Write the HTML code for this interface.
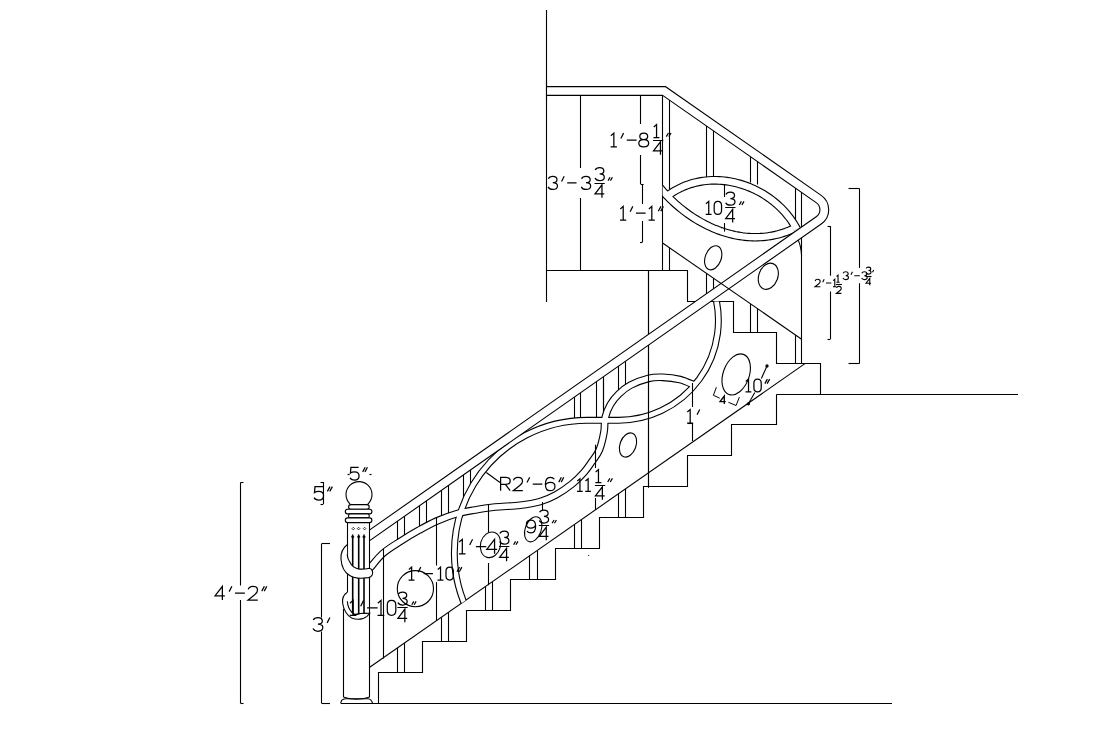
<!DOCTYPE html>
<html><head><meta charset="utf-8"><style>
html,body{margin:0;padding:0;background:#fff;width:1120px;height:751px;overflow:hidden}
svg{display:block}
text{font-family:"Liberation Sans",sans-serif;fill:#000;stroke:none}
</style></head><body>
<svg width="1120" height="751" viewBox="0 0 1120 751">
<defs><clipPath id="cU"><rect x="662.6" y="0" width="400" height="751"/></clipPath>
<clipPath id="cpost"><rect x="369.7" y="0" width="800" height="751"/></clipPath>
<clipPath id="cB"><polygon points="369.7,301.4 894.1,301.4 369.7,667.3"/></clipPath></defs>
<rect width="1120" height="751" fill="#fff"/>
<g fill="none" stroke="#000" stroke-width="1.1" stroke-linecap="butt" stroke-linejoin="miter">
<line x1="546.50" y1="10.00" x2="546.50" y2="302.00"/>
<line x1="340.70" y1="703.50" x2="892.00" y2="703.50"/>
<line x1="776.40" y1="394.50" x2="1018.00" y2="394.50"/>
<path d="M546.50,270.50 L687.50,270.50 L687.50,301.50 L733.50,301.50 L733.50,332.50 L776.50,332.50 L776.50,363.50 L820.50,363.50 L820.50,394.50"/>
<line x1="580.50" y1="91.00" x2="580.50" y2="168.00"/>
<line x1="580.50" y1="198.00" x2="580.50" y2="270.30"/>
<line x1="662.50" y1="91.00" x2="662.50" y2="270.30"/>
<line x1="669.50" y1="95.00" x2="669.50" y2="189.00"/>
<line x1="669.50" y1="247.71" x2="669.50" y2="270.30"/>
<line x1="648.50" y1="270.30" x2="648.50" y2="487.60"/>
<line x1="801.50" y1="191.00" x2="801.50" y2="363.40"/>
<line x1="795.50" y1="335.04" x2="795.50" y2="363.40"/>
<line x1="795.50" y1="185.00" x2="795.50" y2="219.40"/>
<line x1="706.50" y1="123.02" x2="706.50" y2="177.50"/>
<line x1="713.50" y1="127.88" x2="713.50" y2="177.20"/>
<line x1="750.50" y1="153.55" x2="750.50" y2="182.50"/>
<line x1="757.50" y1="158.40" x2="757.50" y2="184.50"/>
<line x1="706.50" y1="273.45" x2="706.50" y2="299.02"/>
<line x1="713.50" y1="278.29" x2="713.50" y2="294.11"/>
<line x1="750.50" y1="303.90" x2="750.50" y2="332.40"/>
<line x1="757.50" y1="308.74" x2="757.50" y2="332.40"/>
<path d="M378.50,703.50 L378.50,672.50 L422.50,672.50 L422.50,641.50 L466.50,641.50 L466.50,610.50 L510.50,610.50 L510.50,579.50 L555.50,579.50 L555.50,548.50 L599.50,548.50 L599.50,517.50 L643.50,517.50 L643.50,486.50 L687.50,486.50 L687.50,455.50 L731.50,455.50 L731.50,424.50 L776.50,424.50 L776.50,394.50"/>
<line x1="369.70" y1="667.30" x2="805.30" y2="363.40"/>
<line x1="397.50" y1="648.01" x2="397.50" y2="672.28"/>
<line x1="404.50" y1="643.05" x2="404.50" y2="672.28"/>
<line x1="441.50" y1="617.17" x2="441.50" y2="641.36"/>
<line x1="448.50" y1="612.22" x2="448.50" y2="641.36"/>
<line x1="485.50" y1="586.33" x2="485.50" y2="610.44"/>
<line x1="492.50" y1="581.38" x2="492.50" y2="610.44"/>
<line x1="529.50" y1="555.49" x2="529.50" y2="579.52"/>
<line x1="537.50" y1="550.54" x2="537.50" y2="579.52"/>
<line x1="574.50" y1="524.66" x2="574.50" y2="548.60"/>
<line x1="581.50" y1="519.70" x2="581.50" y2="548.60"/>
<line x1="618.50" y1="493.82" x2="618.50" y2="517.68"/>
<line x1="625.50" y1="488.86" x2="625.50" y2="517.68"/>
<line x1="397.50" y1="515.86" x2="397.50" y2="541.00"/>
<line x1="404.50" y1="511.03" x2="404.50" y2="537.00"/>
<line x1="419.50" y1="500.30" x2="419.50" y2="530.00"/>
<line x1="426.50" y1="495.46" x2="426.50" y2="527.50"/>
<line x1="441.50" y1="484.94" x2="441.50" y2="522.50"/>
<line x1="448.50" y1="479.96" x2="448.50" y2="520.00"/>
<line x1="463.50" y1="469.44" x2="463.50" y2="498.00"/>
<line x1="470.50" y1="464.74" x2="470.50" y2="486.00"/>
<line x1="574.50" y1="391.59" x2="574.50" y2="420.00"/>
<line x1="580.50" y1="387.39" x2="580.50" y2="420.00"/>
<line x1="596.50" y1="376.24" x2="596.50" y2="420.00"/>
<line x1="603.50" y1="371.47" x2="603.50" y2="412.00"/>
<line x1="618.50" y1="360.74" x2="618.50" y2="392.00"/>
<line x1="625.50" y1="355.97" x2="625.50" y2="388.00"/>
<path d="M469.7,615 A132.7,132.7 0 0,1 587,420.3 L618.5,420.3 A99.8,99.8 0 0,0 713.6,290" stroke-width="6.90" clip-path="url(#cB)"/>
<path d="M362.00,577.00 C363.33,575.50 366.50,571.95 370.00,568.00 C373.50,564.05 377.83,557.80 383.00,553.30 C388.17,548.80 395.00,544.85 401.00,541.00 C407.00,537.15 413.00,533.55 419.00,530.20 C425.00,526.85 430.67,523.67 437.00,520.90 C443.33,518.13 450.67,515.42 457.00,513.60 C463.33,511.78 468.67,511.10 475.00,510.00 C481.33,508.90 487.50,507.78 495.00,507.00 C502.50,506.22 512.50,506.20 520.00,505.30 C527.50,504.40 534.00,503.35 540.00,501.60 C546.00,499.85 550.67,497.73 556.00,494.80 C561.33,491.87 567.33,487.73 572.00,484.00 C576.67,480.27 580.67,476.15 584.00,472.40 C587.33,468.65 589.45,465.23 592.00,461.50 C594.55,457.77 597.30,454.92 599.30,450.00 C601.30,445.08 603.02,437.40 604.00,432.00 C604.98,426.60 604.12,422.20 605.20,417.60 C606.28,413.00 608.23,408.33 610.50,404.40 C612.77,400.47 615.48,397.20 618.80,394.00 C622.12,390.80 625.47,387.80 630.40,385.20 C635.33,382.60 643.03,379.72 648.40,378.40 C653.77,377.08 657.33,377.10 662.60,377.30 C667.87,377.50 674.77,378.32 680.00,379.60 C685.23,380.88 691.67,384.10 694.00,385.00" stroke-width="7.70" clip-path="url(#cpost)"/>
<path d="M667.71,195.58 L669.92,193.99 L672.17,192.49 L674.45,191.08 L676.76,189.76 L679.10,188.54 L681.47,187.40 L683.87,186.35 L686.28,185.39 L688.73,184.51 L691.19,183.72 L693.67,183.01 L696.16,182.39 L698.67,181.85 L701.20,181.39 L703.73,181.02 L706.28,180.72 L708.83,180.51 L711.38,180.37 L713.94,180.31 L716.51,180.32 L719.07,180.42 L721.63,180.58 L724.18,180.82 L726.73,181.14 L729.28,181.53 L731.81,181.98 L734.33,182.51 L736.84,183.11 L739.33,183.78 L741.81,184.52 L744.27,185.32 L746.71,186.19 L749.12,187.12 L751.51,188.12 L753.88,189.19 L756.22,190.31 L758.52,191.50 L760.80,192.75 L763.04,194.06 L765.25,195.42 L767.41,196.85 L769.54,198.34 L771.63,199.88 L773.68,201.47 L775.68,203.12 L777.63,204.83 L779.54,206.59 L781.40,208.40 L783.20,210.26 L784.95,212.17 L786.64,214.14 L788.28,216.15 L789.86,218.21 L791.37,220.31 L792.82,222.47 L794.21,224.66 L795.53,226.91 L796.78,229.19" stroke-width="8.70"/>
<path d="M655.20,181.63 L656.70,183.65 L658.25,185.65 L659.83,187.62 L661.46,189.58 L663.13,191.51 L664.84,193.41 L666.59,195.29 L668.37,197.15 L670.19,198.98 L672.05,200.77 L673.94,202.54 L675.86,204.28 L677.82,205.99 L679.81,207.66 L681.83,209.30 L683.89,210.90 L685.97,212.47 L688.08,214.00 L690.22,215.49 L692.38,216.94 L694.57,218.35 L696.79,219.72 L699.03,221.05 L701.29,222.33 L703.57,223.57 L705.88,224.76 L708.21,225.91 L710.56,227.00 L712.92,228.05 L715.31,229.05 L717.71,229.99 L720.12,230.89 L722.56,231.72 L725.00,232.51 L727.46,233.23 L729.93,233.91 L732.42,234.52 L734.91,235.07 L737.42,235.56 L739.93,235.99 L742.45,236.36 L744.98,236.67 L747.51,236.91 L750.05,237.08 L752.60,237.19 L755.15,237.23 L757.70,237.20 L760.25,237.10 L762.80,236.93 L765.36,236.69 L767.91,236.37 L770.46,235.98 L773.01,235.51 L775.55,234.97 L778.09,234.35 L780.63,233.64 L783.16,232.86 L785.68,232.00 L788.19,231.06 L790.70,230.03 L793.19,228.92" stroke-width="8.50" clip-path="url(#cU)"/>
<path d="M469.7,615 A132.7,132.7 0 0,1 587,420.3 L618.5,420.3 A99.8,99.8 0 0,0 713.6,290" stroke="#fff" stroke-width="4.70" clip-path="url(#cB)"/>
<path d="M362.00,577.00 C363.33,575.50 366.50,571.95 370.00,568.00 C373.50,564.05 377.83,557.80 383.00,553.30 C388.17,548.80 395.00,544.85 401.00,541.00 C407.00,537.15 413.00,533.55 419.00,530.20 C425.00,526.85 430.67,523.67 437.00,520.90 C443.33,518.13 450.67,515.42 457.00,513.60 C463.33,511.78 468.67,511.10 475.00,510.00 C481.33,508.90 487.50,507.78 495.00,507.00 C502.50,506.22 512.50,506.20 520.00,505.30 C527.50,504.40 534.00,503.35 540.00,501.60 C546.00,499.85 550.67,497.73 556.00,494.80 C561.33,491.87 567.33,487.73 572.00,484.00 C576.67,480.27 580.67,476.15 584.00,472.40 C587.33,468.65 589.45,465.23 592.00,461.50 C594.55,457.77 597.30,454.92 599.30,450.00 C601.30,445.08 603.02,437.40 604.00,432.00 C604.98,426.60 604.12,422.20 605.20,417.60 C606.28,413.00 608.23,408.33 610.50,404.40 C612.77,400.47 615.48,397.20 618.80,394.00 C622.12,390.80 625.47,387.80 630.40,385.20 C635.33,382.60 643.03,379.72 648.40,378.40 C653.77,377.08 657.33,377.10 662.60,377.30 C667.87,377.50 674.77,378.32 680.00,379.60 C685.23,380.88 691.67,384.10 694.00,385.00" stroke="#fff" stroke-width="5.50" clip-path="url(#cpost)"/>
<path d="M667.71,195.58 L669.92,193.99 L672.17,192.49 L674.45,191.08 L676.76,189.76 L679.10,188.54 L681.47,187.40 L683.87,186.35 L686.28,185.39 L688.73,184.51 L691.19,183.72 L693.67,183.01 L696.16,182.39 L698.67,181.85 L701.20,181.39 L703.73,181.02 L706.28,180.72 L708.83,180.51 L711.38,180.37 L713.94,180.31 L716.51,180.32 L719.07,180.42 L721.63,180.58 L724.18,180.82 L726.73,181.14 L729.28,181.53 L731.81,181.98 L734.33,182.51 L736.84,183.11 L739.33,183.78 L741.81,184.52 L744.27,185.32 L746.71,186.19 L749.12,187.12 L751.51,188.12 L753.88,189.19 L756.22,190.31 L758.52,191.50 L760.80,192.75 L763.04,194.06 L765.25,195.42 L767.41,196.85 L769.54,198.34 L771.63,199.88 L773.68,201.47 L775.68,203.12 L777.63,204.83 L779.54,206.59 L781.40,208.40 L783.20,210.26 L784.95,212.17 L786.64,214.14 L788.28,216.15 L789.86,218.21 L791.37,220.31 L792.82,222.47 L794.21,224.66 L795.53,226.91 L796.78,229.19" stroke="#fff" stroke-width="6.50"/>
<path d="M655.20,181.63 L656.70,183.65 L658.25,185.65 L659.83,187.62 L661.46,189.58 L663.13,191.51 L664.84,193.41 L666.59,195.29 L668.37,197.15 L670.19,198.98 L672.05,200.77 L673.94,202.54 L675.86,204.28 L677.82,205.99 L679.81,207.66 L681.83,209.30 L683.89,210.90 L685.97,212.47 L688.08,214.00 L690.22,215.49 L692.38,216.94 L694.57,218.35 L696.79,219.72 L699.03,221.05 L701.29,222.33 L703.57,223.57 L705.88,224.76 L708.21,225.91 L710.56,227.00 L712.92,228.05 L715.31,229.05 L717.71,229.99 L720.12,230.89 L722.56,231.72 L725.00,232.51 L727.46,233.23 L729.93,233.91 L732.42,234.52 L734.91,235.07 L737.42,235.56 L739.93,235.99 L742.45,236.36 L744.98,236.67 L747.51,236.91 L750.05,237.08 L752.60,237.19 L755.15,237.23 L757.70,237.20 L760.25,237.10 L762.80,236.93 L765.36,236.69 L767.91,236.37 L770.46,235.98 L773.01,235.51 L775.55,234.97 L778.09,234.35 L780.63,233.64 L783.16,232.86 L785.68,232.00 L788.19,231.06 L790.70,230.03 L793.19,228.92" stroke="#fff" stroke-width="6.30" clip-path="url(#cU)"/>
<path d="M797.6,239 Q801,245 801.6,256"/>
<line x1="648.50" y1="270.30" x2="648.50" y2="487.60"/>
<line x1="724.50" y1="184.50" x2="724.50" y2="197.00"/>
<line x1="724.50" y1="223.00" x2="724.50" y2="231.60"/>
<line x1="383.50" y1="548.80" x2="383.50" y2="658.50"/>
<line x1="436.50" y1="517.50" x2="436.50" y2="565.50"/>
<line x1="436.50" y1="582.00" x2="436.50" y2="621.00"/>
<line x1="488.50" y1="504.30" x2="488.50" y2="532.00"/>
<line x1="488.50" y1="563.00" x2="488.50" y2="585.20"/>
<line x1="542.50" y1="502.00" x2="542.50" y2="510.00"/>
<line x1="595.50" y1="444.70" x2="595.50" y2="468.00"/>
<line x1="595.50" y1="498.00" x2="595.50" y2="510.00"/>
<line x1="692.50" y1="383.00" x2="692.50" y2="407.00"/>
<line x1="692.50" y1="423.00" x2="692.50" y2="441.00"/>
<line x1="688.00" y1="423.50" x2="692.40" y2="423.50"/>
<line x1="603.50" y1="378.50" x2="603.50" y2="408.00"/>
<path d="M546.5,91 L664.1,91 L818.67,199 A13,13 0 0,1 818.7,220.4 L365,538.59" stroke-width="9.90" clip-path="url(#cpost)"/>
<path d="M546.5,91 L664.1,91 L818.67,199 A13,13 0 0,1 818.7,220.4 L365,538.59" stroke="#fff" stroke-width="7.70" clip-path="url(#cpost)"/>
<line x1="546.50" y1="80.00" x2="546.50" y2="100.00"/>
<line x1="662.60" y1="243.00" x2="801.60" y2="339.19"/>
<ellipse cx="713.2" cy="257.8" rx="8" ry="12.5" transform="rotate(20 713.2 257.8)"/>
<ellipse cx="768.3" cy="276.3" rx="9.5" ry="13.5" transform="rotate(20 768.3 276.3)"/>
<ellipse cx="736.2" cy="374.4" rx="13" ry="21.3" transform="rotate(20 736.2 374.4)"/>
<ellipse cx="628" cy="445" rx="8" ry="12.5" transform="rotate(20 628 445)"/>
<ellipse cx="533.2" cy="529.3" rx="8" ry="13" transform="rotate(20 533.2 529.3)"/>
<ellipse cx="490.5" cy="544.8" rx="10" ry="13" transform="rotate(15 490.5 544.8)"/>
<circle cx="415.4" cy="588.7" r="18.1"/>
<g fill="#fff">
<rect x="347.3" y="522" width="22.4" height="70.3" stroke="none"/>
<circle cx="359" cy="494.6" r="13"/>
<rect x="348.6" y="504.6" width="20.6" height="4.7" rx="2.3"/>
<rect x="345.3" y="509.3" width="26.6" height="4.6" rx="2.3"/>
<rect x="348.6" y="513.9" width="20.6" height="4.0" rx="1.5"/>
<rect x="345.3" y="517.9" width="26.6" height="4.7" rx="2.3"/>
</g>
<line x1="347.50" y1="522.60" x2="347.50" y2="592.30"/>
<line x1="369.50" y1="522.60" x2="369.50" y2="697.00"/>
<line x1="343.50" y1="608.70" x2="343.50" y2="697.00"/>
<path d="M353.3,527.3 L354.6,528.6 L353.3,529.9 L352.0,528.6 Z" stroke-width="0.8"/>
<path d="M358.6,527.3 L359.90000000000003,528.6 L358.6,529.9 L357.3,528.6 Z" stroke-width="0.8"/>
<path d="M364.6,527.3 L365.90000000000003,528.6 L364.6,529.9 L363.3,528.6 Z" stroke-width="0.8"/>
<line x1="352.7" y1="536" x2="352.7" y2="615.3" stroke-width="1.6"/>
<path d="M351.4,537.2 L352.7,534.4 L354.0,537.2 Z" stroke-width="0.6" fill="#000"/>
<line x1="358.7" y1="536" x2="358.7" y2="615.3" stroke-width="1.6"/>
<path d="M357.4,537.2 L358.7,534.4 L360.0,537.2 Z" stroke-width="0.6" fill="#000"/>
<line x1="364.0" y1="536" x2="364.0" y2="615.3" stroke-width="1.6"/>
<path d="M362.7,537.2 L364.0,534.4 L365.3,537.2 Z" stroke-width="0.6" fill="#000"/>
<path d="M347.1,544.7 C342.3,548.5 340.6,554 341,559.2 C341.6,566.5 344.8,572.3 349,575 C352.5,577.4 357,578.3 361.1,578.3 L368.5,577.6 C372.3,577 373.2,573.5 372.4,571.3 C371.9,569.6 370.9,568.5 369.5,568.3 C365,569.2 361,569.3 358.4,569 C354.8,567.8 352,566 350.9,563.9 C348.6,560.6 347.3,557.5 347.1,554.5" fill="#fff"/>
<path d="M347.3,592.3 C343.2,595 342.1,599.5 342.7,603.5 C343.6,610 347.5,616 351.7,618 C354,619 356,619.3 358.3,619.3 C362,619.3 365,618 367,616.3 L369.7,613.3 C365,613 360.5,613 356.3,614.7 C354.5,614.5 353,613.5 352,612.5 C349.3,609.8 347.6,605.5 347.3,601.3" fill="#fff"/>
<path d="M350.3,616.2 C354,613.6 363,612.8 367.5,613.6" stroke-width="0.9"/>
<path d="M343.3,697 Q356.5,701.5 369.7,697"/>
<path d="M340.7,703.2 L341.5,700.5 Q343,698.8 345.5,698.8 L368,698.8 Q371,699 372.6,703.2"/>
<line x1="240.50" y1="482.50" x2="240.50" y2="585.50"/>
<line x1="240.50" y1="600.00" x2="240.50" y2="703.20"/>
<line x1="240.50" y1="482.50" x2="243.50" y2="482.50"/>
<line x1="240.50" y1="703.50" x2="243.50" y2="703.50"/>
<line x1="321.50" y1="543.80" x2="321.50" y2="617.50"/>
<line x1="321.50" y1="631.50" x2="321.50" y2="703.20"/>
<line x1="321.50" y1="543.50" x2="330.00" y2="543.50"/>
<line x1="321.50" y1="703.50" x2="330.00" y2="703.50"/>
<line x1="640.50" y1="95.50" x2="640.50" y2="124.00"/>
<line x1="640.50" y1="155.00" x2="640.50" y2="184.00"/>
<line x1="640.60" y1="184.50" x2="643.60" y2="184.50"/>
<line x1="642.50" y1="184.00" x2="642.50" y2="204.00"/>
<line x1="642.50" y1="221.00" x2="642.50" y2="242.00"/>
<line x1="640.00" y1="242.50" x2="642.50" y2="242.50"/>
<line x1="859.50" y1="188.40" x2="859.50" y2="267.90"/>
<line x1="859.50" y1="283.20" x2="859.50" y2="363.60"/>
<line x1="848.50" y1="188.50" x2="859.40" y2="188.50"/>
<line x1="848.50" y1="363.50" x2="859.40" y2="363.50"/>
<line x1="830.50" y1="226.00" x2="830.50" y2="275.70"/>
<line x1="830.50" y1="291.40" x2="830.50" y2="339.00"/>
<line x1="827.50" y1="226.50" x2="830.40" y2="226.50"/>
<line x1="827.50" y1="339.50" x2="830.40" y2="339.50"/>
<line x1="323.50" y1="482.00" x2="323.50" y2="504.00"/>
<line x1="320.50" y1="482.50" x2="323.30" y2="482.50"/>
<line x1="320.50" y1="504.50" x2="323.30" y2="504.50"/>
<line x1="486.30" y1="472.50" x2="500.00" y2="482.50"/>
<line x1="767.00" y1="366.00" x2="761.40" y2="378.40"/>
<line x1="754.80" y1="392.40" x2="748.40" y2="403.80"/>
<circle cx="767" cy="366" r="1.1" fill="#000"/>
<circle cx="748.4" cy="403.8" r="1.1" fill="#000"/>
<path d="M716.4,387.2 L713.4,395.3 L719.7,398.2 M728.4,402.3 L736.1,405.5 L739.4,397.1" stroke-width="1"/>
<circle cx="588.7" cy="555.5" r="0.6" fill="#000" stroke="none"/>
<line x1="347.60" y1="474.50" x2="349.60" y2="474.50" stroke-width="1.2"/>
<line x1="369.50" y1="474.50" x2="371.50" y2="474.50" stroke-width="1.2"/>
<path d="M222.37,600.00 L222.37,586.25 L215.00,595.88 L224.82,595.88 M231.89,586.25 L229.14,591.65 M235.04,593.12 L244.86,593.12 M248.29,589.39 C248.79,587.23 250.46,586.25 252.91,586.25 C255.86,586.25 257.53,587.92 257.53,590.18 C257.53,592.14 256.35,593.42 254.38,594.89 L248.00,600.00 L257.82,600.00 M264.40,586.25 L261.75,591.16 M266.86,586.25 L264.21,591.16" stroke-width="1.25"/>
<path d="M313.29,619.96 C313.98,618.29 315.75,617.50 317.91,617.50 C320.66,617.50 322.33,618.97 322.33,621.04 C322.33,623.00 320.66,624.18 317.91,624.18 C321.05,624.18 322.82,625.65 322.82,627.62 C322.82,629.88 320.86,631.25 317.91,631.25 C315.46,631.25 313.79,630.27 313.00,628.60 M329.89,617.50 L327.14,622.90" stroke-width="1.25"/>
<path d="M724.29,404.00 L724.29,396.00 L720.00,401.60 L725.71,401.60" stroke-width="1.3"/>
<path d="M548.38,178.64 C549.04,177.05 550.72,176.30 552.78,176.30 C555.40,176.30 556.99,177.70 556.99,179.67 C556.99,181.54 555.40,182.66 552.78,182.66 C555.77,182.66 557.46,184.07 557.46,185.94 C557.46,188.09 555.59,189.40 552.78,189.40 C550.44,189.40 548.85,188.46 548.10,186.87 M564.19,176.30 L561.57,181.45 M567.19,182.85 L576.55,182.85" stroke-width="1.25"/>
<path d="M581.58,178.64 C582.24,177.05 583.92,176.30 585.98,176.30 C588.60,176.30 590.19,177.70 590.19,179.67 C590.19,181.54 588.60,182.66 585.98,182.66 C588.97,182.66 590.66,184.07 590.66,185.94 C590.66,188.09 588.79,189.40 585.98,189.40 C583.64,189.40 582.05,188.46 581.30,186.87" stroke-width="1.25"/>
<path d="M595.28,169.92 C595.93,168.34 597.60,167.60 599.64,167.60 C602.24,167.60 603.82,168.99 603.82,170.94 C603.82,172.80 602.24,173.91 599.64,173.91 C602.61,173.91 604.29,175.31 604.29,177.16 C604.29,179.30 602.43,180.60 599.64,180.60 C597.32,180.60 595.74,179.67 595.00,178.09" stroke-width="1.25"/>
<path d="M601.96,197.80 L601.96,184.80 L595.00,193.90 L604.29,193.90" stroke-width="1.25"/>
<line x1="594.50" y1="183.50" x2="604.79" y2="183.50" stroke-width="1.0"/>
<path d="M610.06,177.30 L608.10,180.60 M612.42,177.30 L610.46,180.60" stroke-width="1.25"/>
<path d="M610.90,135.66 L613.85,133.10 L613.85,146.90 M610.60,146.90 L616.91,146.90 M623.61,133.10 L620.85,138.52 M626.77,140.00 L636.62,140.00" stroke-width="1.25"/>
<path d="M643.73,139.61 C641.36,139.61 639.79,138.42 639.79,136.35 C639.79,134.38 641.36,133.10 643.73,133.10 C646.09,133.10 647.67,134.38 647.67,136.35 C647.67,138.42 646.09,139.61 643.73,139.61 C640.77,139.61 638.80,141.18 638.80,143.25 C638.80,145.42 640.77,146.90 643.73,146.90 C646.69,146.90 648.66,145.42 648.66,143.25 C648.66,141.18 646.69,139.61 643.73,139.61 Z" stroke-width="1.25"/>
<path d="M653.78,127.01 L656.56,124.60 L656.56,137.60 M653.50,137.60 L659.44,137.60" stroke-width="1.25"/>
<path d="M660.46,154.80 L660.46,141.80 L653.50,150.90 L662.79,150.90" stroke-width="1.25"/>
<line x1="653.00" y1="140.50" x2="663.29" y2="140.50" stroke-width="1.0"/>
<path d="M668.44,133.00 L666.30,136.60 M671.01,133.00 L668.87,136.60" stroke-width="1.25"/>
<path d="M620.29,208.93 L623.21,206.40 L623.21,220.00 M620.00,220.00 L626.22,220.00 M632.82,206.40 L630.10,211.74 M635.93,213.20 L645.65,213.20" stroke-width="1.25"/>
<path d="M648.89,208.93 L651.81,206.40 L651.81,220.00 M648.60,220.00 L654.82,220.00 M660.94,206.40 L658.31,211.26 M663.37,206.40 L660.74,211.26" stroke-width="1.25"/>
<path d="M705.98,203.80 L708.74,201.40 L708.74,214.30 M705.70,214.30 L711.60,214.30 M717.86,201.40 C720.17,201.40 721.55,203.06 721.55,205.55 L721.55,210.15 C721.55,212.64 720.17,214.30 717.86,214.30 C715.56,214.30 714.18,212.64 714.18,210.15 L714.18,205.55 C714.18,203.06 715.56,201.40 717.86,201.40 Z" stroke-width="1.25"/>
<path d="M725.98,194.52 C726.63,192.94 728.30,192.20 730.34,192.20 C732.94,192.20 734.52,193.59 734.52,195.54 C734.52,197.40 732.94,198.51 730.34,198.51 C733.31,198.51 734.99,199.91 734.99,201.76 C734.99,203.90 733.13,205.20 730.34,205.20 C728.02,205.20 726.44,204.27 725.70,202.69" stroke-width="1.25"/>
<path d="M732.66,222.40 L732.66,209.40 L725.70,218.50 L734.99,218.50" stroke-width="1.25"/>
<line x1="725.20" y1="207.50" x2="735.49" y2="207.50" stroke-width="1.0"/>
<path d="M741.44,201.40 L739.30,205.00 M744.01,201.40 L741.87,205.00" stroke-width="1.25"/>
<path d="M815.16,281.01 C815.43,279.84 816.34,279.30 817.68,279.30 C819.29,279.30 820.20,280.21 820.20,281.44 C820.20,282.51 819.55,283.21 818.48,284.01 L815.00,286.80 L820.36,286.80 M824.21,279.30 L822.71,282.25 M825.93,283.05 L831.29,283.05 M833.16,280.69 L834.77,279.30 L834.77,286.80 M833.00,286.80 L836.43,286.80" stroke-width="1.1"/>
<path d="M836.55,276.50 L838.05,275.20 L838.05,282.20 M836.40,282.20 L839.60,282.20" stroke-width="1.1"/>
<path d="M836.55,288.00 C836.80,286.90 837.65,286.40 838.90,286.40 C840.40,286.40 841.25,287.25 841.25,288.40 C841.25,289.40 840.65,290.05 839.65,290.80 L836.40,293.40 L841.40,293.40" stroke-width="1.1"/>
<line x1="835.90" y1="284.50" x2="841.90" y2="284.50" stroke-width="1.1"/>
<path d="M843.07,273.19 C843.46,272.25 844.46,271.80 845.69,271.80 C847.25,271.80 848.19,272.64 848.19,273.81 C848.19,274.92 847.25,275.59 845.69,275.59 C847.47,275.59 848.47,276.42 848.47,277.54 C848.47,278.82 847.36,279.60 845.69,279.60 C844.29,279.60 843.35,279.04 842.90,278.10 M852.48,271.80 L850.92,274.86 M854.27,275.70 L859.84,275.70 M861.79,273.19 C862.18,272.25 863.18,271.80 864.41,271.80 C865.97,271.80 866.91,272.64 866.91,273.81 C866.91,274.92 865.97,275.59 864.41,275.59 C866.19,275.59 867.19,276.42 867.19,277.54 C867.19,278.82 866.08,279.60 864.41,279.60 C863.01,279.60 862.07,279.04 861.62,278.10" stroke-width="1.1"/>
<path d="M866.15,268.35 C866.50,267.50 867.40,267.10 868.50,267.10 C869.90,267.10 870.75,267.85 870.75,268.90 C870.75,269.90 869.90,270.50 868.50,270.50 C870.10,270.50 871.00,271.25 871.00,272.25 C871.00,273.40 870.00,274.10 868.50,274.10 C867.25,274.10 866.40,273.60 866.00,272.75" stroke-width="1.1"/>
<path d="M869.75,285.30 L869.75,278.30 L866.00,283.20 L871.00,283.20" stroke-width="1.1"/>
<line x1="865.50" y1="276.50" x2="871.50" y2="276.50" stroke-width="1.1"/>
<path d="M873.71,270.00 L872.51,272.36" stroke-width="1.1"/>
<path d="M745.77,381.48 L748.52,379.10 L748.52,391.90 M745.50,391.90 L751.35,391.90 M757.57,379.10 C759.85,379.10 761.23,380.75 761.23,383.21 L761.23,387.79 C761.23,390.25 759.85,391.90 757.57,391.90 C755.28,391.90 753.91,390.25 753.91,387.79 L753.91,383.21 C753.91,380.75 755.28,379.10 757.57,379.10 Z M767.35,379.10 L764.88,383.67 M769.64,379.10 L767.17,383.67" stroke-width="1.25"/>
<path d="M687.29,412.01 L690.18,409.50 L690.18,423.00 M687.00,423.00 L693.17,423.00 M699.73,409.50 L697.03,414.80" stroke-width="1.25"/>
<path d="M500.60,490.70 L500.60,477.30 L505.86,477.30 C508.54,477.30 510.17,478.74 510.17,480.94 C510.17,483.04 508.54,484.29 505.86,484.29 L500.60,484.29 M505.39,484.29 L510.17,490.70 M513.52,480.36 C514.00,478.26 515.63,477.30 518.02,477.30 C520.89,477.30 522.52,478.93 522.52,481.13 C522.52,483.04 521.37,484.29 519.46,485.72 L513.23,490.70 L522.81,490.70 M529.70,477.30 L527.02,482.56 M532.76,484.00 L542.33,484.00 M554.30,479.21 C553.53,477.97 552.09,477.30 550.18,477.30 C547.12,477.30 545.39,479.98 545.39,484.48 C545.39,488.59 547.31,490.70 550.18,490.70 C553.05,490.70 554.97,488.79 554.97,486.39 C554.97,484.00 553.05,482.37 550.37,482.37 C547.79,482.37 545.87,483.81 545.39,485.72 M561.38,477.30 L558.79,482.09 M563.77,477.30 L561.19,482.09" stroke-width="1.25"/>
<path d="M577.27,481.07 L579.95,478.75 L579.95,491.25 M577.00,491.25 L582.71,491.25 M585.48,481.07 L588.16,478.75 L588.16,491.25 M585.21,491.25 L590.93,491.25" stroke-width="1.25"/>
<path d="M595.68,472.01 L598.46,469.60 L598.46,482.60 M595.40,482.60 L601.34,482.60" stroke-width="1.25"/>
<path d="M602.36,499.80 L602.36,486.80 L595.40,495.90 L604.69,495.90" stroke-width="1.25"/>
<line x1="594.90" y1="485.50" x2="605.19" y2="485.50" stroke-width="1.0"/>
<path d="M609.84,478.40 L607.70,482.00 M612.41,478.40 L610.27,482.00" stroke-width="1.25"/>
<path d="M527.04,531.06 C527.78,532.25 529.16,532.90 531.01,532.90 C533.96,532.90 535.61,530.32 535.61,525.99 C535.61,522.03 533.77,520.00 531.01,520.00 C528.24,520.00 526.40,521.84 526.40,524.15 C526.40,526.45 528.24,528.02 530.82,528.02 C533.31,528.02 535.15,526.63 535.61,524.79" stroke-width="1.25"/>
<path d="M539.58,512.32 C540.23,510.74 541.90,510.00 543.94,510.00 C546.54,510.00 548.12,511.39 548.12,513.34 C548.12,515.20 546.54,516.31 543.94,516.31 C546.91,516.31 548.59,517.71 548.59,519.56 C548.59,521.70 546.73,523.00 543.94,523.00 C541.62,523.00 540.04,522.07 539.30,520.49" stroke-width="1.25"/>
<path d="M546.26,540.20 L546.26,527.20 L539.30,536.30 L548.59,536.30" stroke-width="1.25"/>
<line x1="538.80" y1="525.50" x2="549.09" y2="525.50" stroke-width="1.0"/>
<path d="M554.06,520.00 L552.10,523.30 M556.42,520.00 L554.46,523.30" stroke-width="1.25"/>
<path d="M459.21,541.99 L462.32,539.30 L462.32,553.80 M458.90,553.80 L465.53,553.80 M472.57,539.30 L469.67,545.00 M475.89,546.55 L486.24,546.55" stroke-width="1.25"/>
<path d="M494.57,553.80 L494.57,539.30 L486.80,549.45 L497.16,549.45" stroke-width="1.25"/>
<path d="M499.88,533.42 C500.53,531.84 502.20,531.10 504.24,531.10 C506.84,531.10 508.42,532.49 508.42,534.44 C508.42,536.30 506.84,537.41 504.24,537.41 C507.21,537.41 508.89,538.81 508.89,540.66 C508.89,542.80 507.03,544.10 504.24,544.10 C501.92,544.10 500.34,543.17 499.60,541.59" stroke-width="1.25"/>
<path d="M506.56,561.30 L506.56,548.30 L499.60,557.40 L508.89,557.40" stroke-width="1.25"/>
<line x1="499.10" y1="546.50" x2="509.39" y2="546.50" stroke-width="1.0"/>
<path d="M515.56,541.40 L513.60,544.70 M517.92,541.40 L515.96,544.70" stroke-width="1.25"/>
<path d="M408.88,569.50 L411.64,567.10 L411.64,580.00 M408.60,580.00 L414.50,580.00 M420.76,567.10 L418.18,572.17 M423.71,573.55 L432.93,573.55" stroke-width="1.25"/>
<path d="M437.78,569.50 L440.54,567.10 L440.54,580.00 M437.50,580.00 L443.40,580.00 M449.66,567.10 C451.97,567.10 453.35,568.76 453.35,571.25 L453.35,575.85 C453.35,578.34 451.97,580.00 449.66,580.00 C447.36,580.00 445.98,578.34 445.98,575.85 L445.98,571.25 C445.98,568.76 447.36,567.10 449.66,567.10 Z M459.52,567.10 L457.03,571.71 M461.83,567.10 L459.34,571.71" stroke-width="1.25"/>
<path d="M349.92,603.17 L353.11,600.40 L353.11,615.30 M349.60,615.30 L356.41,615.30 M363.65,600.40 L360.67,606.25 M367.05,607.85 L377.70,607.85" stroke-width="1.25"/>
<path d="M377.82,603.17 L381.01,600.40 L381.01,615.30 M377.50,615.30 L384.31,615.30 M391.55,600.40 C394.21,600.40 395.81,602.32 395.81,605.19 L395.81,610.51 C395.81,613.38 394.21,615.30 391.55,615.30 C388.89,615.30 387.29,613.38 387.29,610.51 L387.29,605.19 C387.29,602.32 388.89,600.40 391.55,600.40 Z" stroke-width="1.25"/>
<path d="M398.18,594.32 C398.83,592.74 400.50,592.00 402.54,592.00 C405.14,592.00 406.72,593.39 406.72,595.34 C406.72,597.20 405.14,598.31 402.54,598.31 C405.51,598.31 407.19,599.71 407.19,601.56 C407.19,603.70 405.33,605.00 402.54,605.00 C400.22,605.00 398.64,604.07 397.90,602.49" stroke-width="1.25"/>
<path d="M404.86,622.20 L404.86,609.20 L397.90,618.30 L407.19,618.30" stroke-width="1.25"/>
<line x1="397.40" y1="607.50" x2="407.69" y2="607.50" stroke-width="1.0"/>
<path d="M413.76,601.40 L411.80,604.70 M416.12,601.40 L414.16,604.70" stroke-width="1.25"/>
<path d="M358.62,467.30 L350.91,467.30 L350.45,473.01 C351.63,472.11 352.99,471.84 354.54,471.84 C357.26,471.84 359.07,473.47 359.07,475.92 C359.07,478.46 357.26,480.00 354.54,480.00 C352.36,480.00 350.82,479.27 350.00,477.73 M365.15,467.30 L362.70,471.84 M367.42,467.30 L364.97,471.84" stroke-width="1.25"/>
<path d="M323.09,486.60 L314.96,486.60 L314.48,492.63 C315.72,491.67 317.16,491.39 318.79,491.39 C321.66,491.39 323.57,493.11 323.57,495.69 C323.57,498.37 321.66,500.00 318.79,500.00 C316.49,500.00 314.86,499.23 314.00,497.61 M329.98,486.60 L327.40,491.39 M332.38,486.60 L329.79,491.39" stroke-width="1.25"/>
</g>
</svg>
</body></html>
